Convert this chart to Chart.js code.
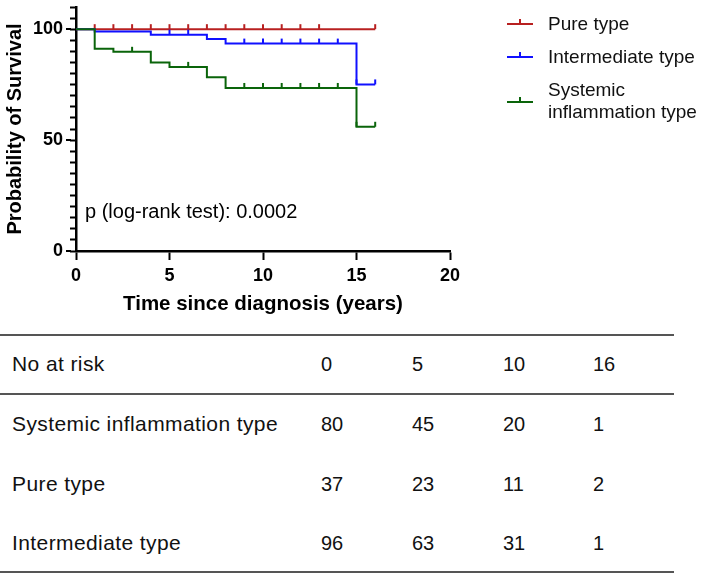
<!DOCTYPE html>
<html>
<head>
<meta charset="utf-8">
<script src="https://cdn.jsdelivr.net/npm/chart.js@4"></script>
<style>
  body { margin: 0; background: #fff; }
  #wrap { position: relative; width: 708px; height: 574px; background: #fff; overflow: hidden; }
  #km { position: absolute; left: 0; top: 0; }
  .rule { position: absolute; left: 0; width: 674px; height: 2px; background: #555; }
  .cell { position: absolute; height: 24px; line-height: 24px; white-space: nowrap; color: #111;
          font-family: "Liberation Sans", Arial, sans-serif; font-size: 20px; }
  .cell.lab { font-size: 21px; letter-spacing: 0.4px; }
</style>
</head>
<body>
<div id="wrap">
  <canvas id="km" width="708" height="325"></canvas>
  <div id="risk"></div>
</div>
<script>
// survival curves (time in years, survival in %)
var pureTimes = [0, 16];
var pureSurv = [100, 100];
var pureCensored = [1, 2, 3, 4, 5, 6, 7, 8, 9, 10, 11, 12, 13, 16];

var interTimes = [0, 1, 4, 7, 8, 15, 16];
var interSurv = [100, 98.9, 97.5, 95.6, 93.5, 75.1, 75.1];
var interCensored = [5, 6, 9, 10, 11, 12, 13, 14, 15, 16];

var systTimes = [0, 1, 2, 4, 5, 7, 8, 15, 16];
var systSurv = [100, 91.2, 89.8, 85.0, 83.0, 78.3, 73.5, 56.0, 56.0];
var systCensored = [3, 6, 9, 10, 11, 12, 13, 14, 15, 16];

var xTicks = [0, 5, 10, 15, 20];
var yTicks = [0, 50, 100];

// number at risk table
var riskTimes = [0, 5, 10, 16];
var riskGroups = ['Systemic inflammation type', 'Pure type', 'Intermediate type'];
var systRisk = [80, 45, 20, 1];
var pureRisk = [37, 23, 11, 2];
var interRisk = [96, 63, 31, 1];

var RED = '#b82020';
var BLUE = '#1010ff';
var GREEN = '#0a640a';

function toPoints(times, surv) {
  return times.map(function (t, i) { return { x: t, y: surv[i] }; });
}

// value of the step curve at time t
function survAt(times, surv, t) {
  var v = surv[0];
  for (var i = 0; i < times.length; i++) {
    if (times[i] <= t) v = surv[i];
  }
  return v;
}

function censorPoints(times, surv, cens) {
  return cens.map(function (t) { return { x: t, y: survAt(times, surv, t) }; });
}

function curve(times, surv, color) {
  return {
    data: toPoints(times, surv),
    stepped: true,
    borderColor: color,
    borderWidth: 2,
    pointRadius: 0,
    fill: false
  };
}

function ticks(times, surv, cens, color) {
  return {
    data: censorPoints(times, surv, cens),
    showLine: false,
    pointStyle: 'dash',
    pointRotation: -90,
    pointRadius: 5,
    pointHoverRadius: 5,
    pointBorderColor: color,
    pointBackgroundColor: color,
    pointBorderWidth: 2
  };
}

var legendItems = [
  { text: ['Pure type'], color: RED, y: 24 },
  { text: ['Intermediate type'], color: BLUE, y: 57 },
  { text: ['Systemic', 'inflammation type'], color: GREEN, y: 102 }
];

var extras = {
  id: 'extras',
  afterDraw: function (chart) {
    var ctx = chart.ctx;
    var ys = chart.scales.y;
    ctx.save();
    // longer ticks at the labelled values
    ctx.strokeStyle = '#000';
    ctx.lineWidth = 2;
    yTicks.forEach(function (v) {
      var py = Math.round(ys.getPixelForValue(v));
      ctx.beginPath();
      ctx.moveTo(ys.right - 10, py);
      ctx.lineTo(ys.right - 5, py);
      ctx.stroke();
    });

    // p value
    ctx.fillStyle = '#000';
    ctx.font = '20px "Liberation Sans", Arial, sans-serif';
    ctx.textBaseline = 'middle';
    ctx.textAlign = 'left';
    ctx.fillText('p (log-rank test): 0.0002', 85, 212);

    // legend
    ctx.font = '19px "Liberation Sans", Arial, sans-serif';
    legendItems.forEach(function (it) {
      ctx.strokeStyle = it.color;
      ctx.lineWidth = 2;
      ctx.beginPath();
      ctx.moveTo(507, it.y);
      ctx.lineTo(533, it.y);
      ctx.moveTo(520, it.y);
      ctx.lineTo(520, it.y - 5);
      ctx.stroke();
      ctx.fillStyle = '#111';
      if (it.text.length === 1) {
        ctx.fillText(it.text[0], 548, it.y + 1);
      } else {
        ctx.fillText(it.text[0], 548, it.y - 11);
        ctx.fillText(it.text[1], 548, it.y + 11);
      }
    });
    ctx.restore();
  }
};

var boldFont = { family: '"Liberation Sans", Arial, sans-serif', weight: 'bold' };

new Chart(document.getElementById('km'), {
  type: 'line',
  data: {
    datasets: [
      curve(systTimes, systSurv, GREEN),
      ticks(systTimes, systSurv, systCensored, GREEN),
      curve(interTimes, interSurv, BLUE),
      ticks(interTimes, interSurv, interCensored, BLUE),
      curve(pureTimes, pureSurv, RED),
      ticks(pureTimes, pureSurv, pureCensored, RED)
    ]
  },
  options: {
    responsive: false,
    animation: false,
    layout: { padding: { top: 2, right: 258, bottom: 0, left: 0 } },
    plugins: { legend: { display: false }, tooltip: { enabled: false } },
    scales: {
      x: {
        type: 'linear',
        min: 0,
        max: 20,
        afterFit: function (s) { s.height = 74; s.paddingLeft = 0; s.paddingRight = 0; },
        afterBuildTicks: function (s) { s.ticks = xTicks.map(function (v) { return { value: v }; }); },
        grid: { drawOnChartArea: false, tickLength: 9, tickWidth: 2, tickColor: '#000' },
        border: { color: '#000', width: 2.5 },
        ticks: { color: '#000', padding: 5, font: Object.assign({ size: 18 }, boldFont), maxRotation: 0 },
        title: { display: true, text: 'Time since diagnosis (years)', color: '#000',
                 font: Object.assign({ size: 20.5 }, boldFont), padding: { bottom: 8, top: 0 } }
      },
      y: {
        min: 0,
        max: 110,
        afterFit: function (s) { s.width = 76; s.paddingTop = 0; s.paddingBottom = 0; },
        grid: { drawOnChartArea: false, tickLength: 6, tickWidth: 2, tickColor: '#000' },
        border: { color: '#000', width: 2.5 },
        ticks: {
          stepSize: 5,
          autoSkip: false,
          padding: 7,
          color: '#000',
          font: Object.assign({ size: 18 }, boldFont),
          callback: function (v) { return yTicks.indexOf(v) >= 0 ? String(v) : ''; }
        },
        title: { display: true, text: 'Probability of Survival', color: '#000',
                 font: Object.assign({ size: 20 }, boldFont), padding: { top: 3, bottom: 0 } }
      }
    }
  },
  plugins: [extras]
});

// number at risk table
var risk = document.getElementById('risk');
var ruleYs = [334, 393, 571];
var rowYs = [364, 424, 484, 543];
var labelX = 12;
var colXs = [321, 412, 503, 593];

ruleYs.forEach(function (y) {
  var d = document.createElement('div');
  d.className = 'rule';
  d.style.top = y + 'px';
  risk.appendChild(d);
});

function addCell(text, x, y, cls) {
  var d = document.createElement('div');
  d.className = 'cell' + (cls ? ' ' + cls : '');
  d.style.left = x + 'px';
  d.style.top = (y - 12) + 'px';
  d.textContent = text;
  risk.appendChild(d);
}

var rows = [['No at risk', riskTimes]];
var groupCounts = [systRisk, pureRisk, interRisk];
riskGroups.forEach(function (g, i) { rows.push([g, groupCounts[i]]); });

rows.forEach(function (r, i) {
  addCell(r[0], labelX, rowYs[i], 'lab');
  r[1].forEach(function (v, j) { addCell(String(v), colXs[j], rowYs[i]); });
});
</script>
</body>
</html>
